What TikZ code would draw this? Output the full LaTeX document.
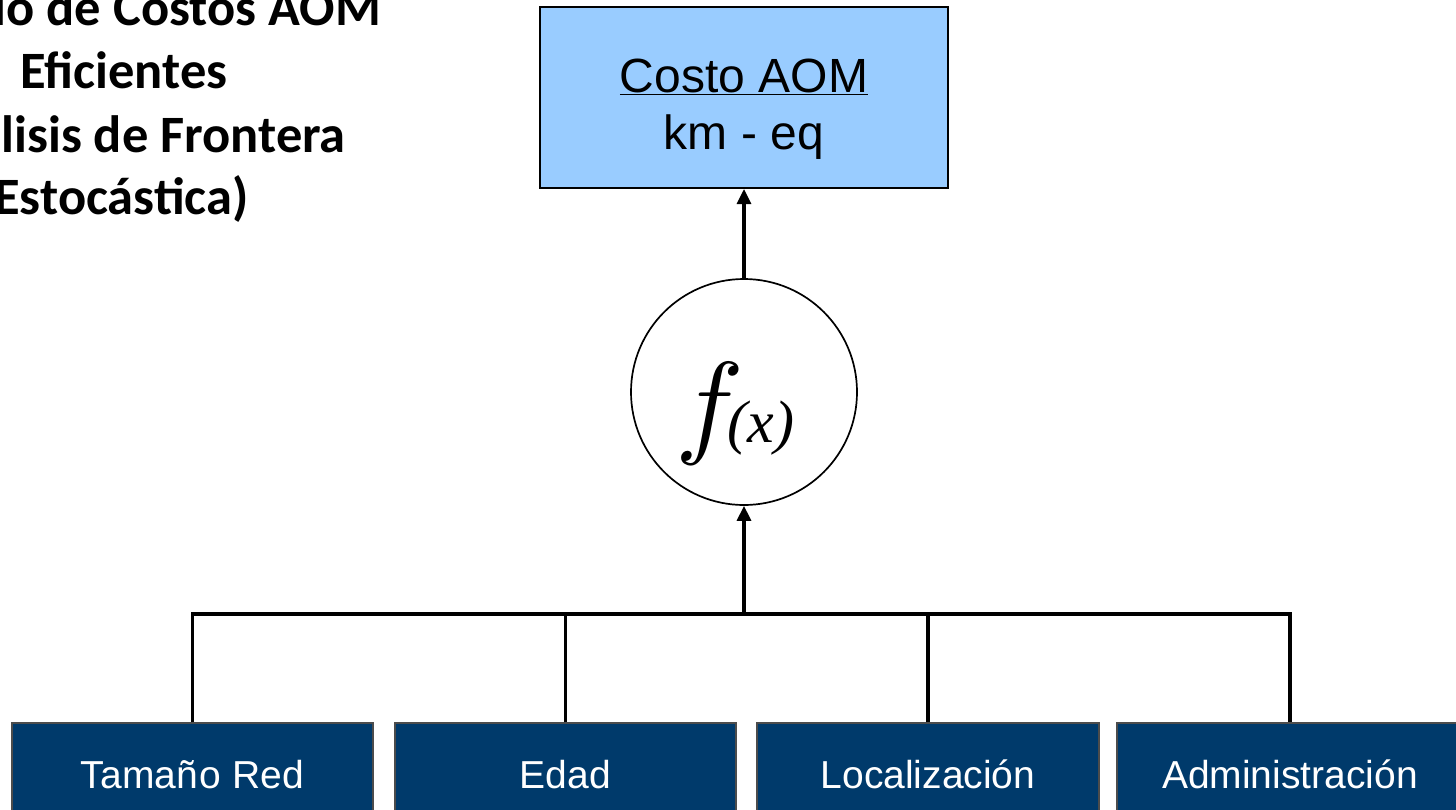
\documentclass[tikz,border=0pt]{standalone}
\usepackage{fontspec}
\setmainfont{Liberation Sans}
\newfontfamily\titlefont{Carlito}
\newfontfamily\mathserif{Liberation Serif}
\usetikzlibrary{arrows.meta}
\definecolor{lightblue}{HTML}{99CCFF}
\definecolor{navy}{HTML}{003A6B}
\tikzset{
  topbox/.style={draw=black, line width=2pt, fill=lightblue, minimum width=408pt, minimum height=181pt, inner sep=0pt},
  boxtext/.style={anchor=base, inner sep=0pt, font=\fontsize{48}{57}\selectfont},
  factor/.style={draw=black!70, line width=1.4pt, fill=navy, text=white, minimum height=112pt, inner sep=0pt,
                 text height=28pt, text depth=9pt, font=\fontsize{39}{45}\selectfont},
  funcnode/.style={circle, draw=black, line width=1.7pt, fill=white, minimum size=226pt, inner sep=0pt},
  conn/.style={line width=3.2pt, black},
  arr/.style={conn, -{Triangle[length=15pt,width=14pt]}},
  titleline/.style={anchor=base east, inner sep=0pt, font=\titlefont\bfseries\fontsize{52.5}{60}\selectfont},
}
\begin{document}
\begin{tikzpicture}[x=1pt,y=-1pt]
\useasboundingbox (0,0) rectangle (1456,809);
\clip (0,0) rectangle (1456,809);
\fill[white] (0,0) rectangle (1456,809);

% title fragments (cut by the left edge)
\node[titleline] (t1) at (381,25) {lo de Costos AOM};
\node[titleline, anchor=base west] (t2) at (20,88) {Eficientes};
\node[titleline] (t3) at (346,152) {lisis de Frontera};
\node[titleline] (t4) at (249,214) {Estocástica)};

% output box
\node[topbox] (costo) at (744,97.5) {};
\node[boxtext] (costotxt) at (744,92) {\underline{Costo AOM}};
\node[boxtext] (kmeq) at (744,149) {km - eq};

% function circle
\node[funcnode] (fx) at (744,392) {};
\node[anchor=base west, inner sep=0pt] (fxtxt) at (675,442)
  {\scalebox{11.5}{$f$}\kern-16pt\mathserif\itshape\fontsize{60}{60}\selectfont(x)};

% factor boxes
\node[factor, minimum width=361pt] (f1) at (192.5,779) {Tamañ\hspace{2pt}o Red};
\node[factor, minimum width=341pt] (f2) at (565.5,779) {Edad};
\node[factor, minimum width=342pt] (f3) at (928,779) {Localización};
\node[factor, minimum width=346pt] (f4) at (1290,779) {Administración};

% connectors
\coordinate (bus) at (744,614);
\draw[conn] (f1.north) |- (f4.north |- bus) -- (f4.north);
\draw[conn] (f2.north) -- (f2.north |- bus);
\draw[conn] (f3.north) -- (f3.north |- bus);
\draw[arr] (bus) -- (fx.south);
\draw[arr] (fx.north) -- (costo.south);
\end{tikzpicture}
\end{document}
